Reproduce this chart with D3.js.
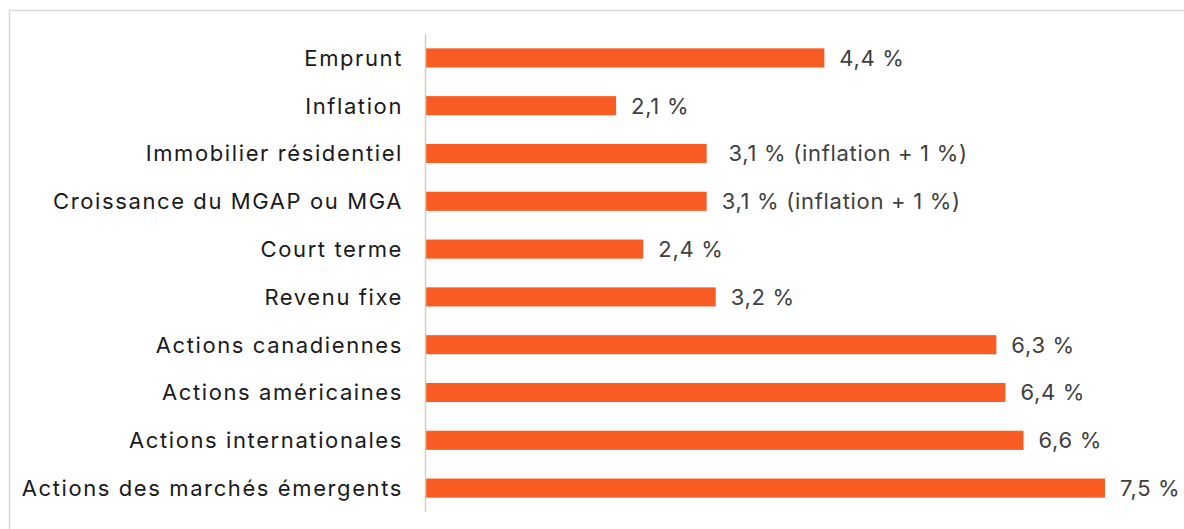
<!DOCTYPE html>
<html>
<head>
<meta charset="utf-8">
<script src="https://cdn.jsdelivr.net/npm/d3@7"></script>
<style>
  body { margin: 0; background: #fff; }
  svg { display: block; }
  .cat { font-family: Inter, sans-serif; font-size: 22px; fill: #1a1a1a; letter-spacing: 1.6px; }
  .val { font-family: Inter, sans-serif; font-size: 22px; fill: #404040; letter-spacing: 0.7px; }
</style>
</head>
<body>
<div class="chart"></div>
<script>
const categories = ["Emprunt", "Inflation", "Immobilier résidentiel", "Croissance du MGAP ou MGA",
  "Court terme", "Revenu fixe", "Actions canadiennes", "Actions américaines",
  "Actions internationales", "Actions des marchés émergents"];
const values = [4.4, 2.1, 3.1, 3.1, 2.4, 3.2, 6.3, 6.4, 6.6, 7.5];
const valueLabels = ["4,4 %", "2,1 %", " 3,1 % (inflation + 1 %)", "3,1 % (inflation + 1 %)",
  "2,4 %", "3,2 %", "6,3 %", "6,4 %", "6,6 %", "7,5 %"];

const W = 1184, H = 529;
const svg = d3.select(".chart").append("svg")
    .attr("width", W)
    .attr("height", H);

// frame
svg.append("rect")
    .attr("x", 9.5).attr("y", 10.5)
    .attr("width", 1200).attr("height", 600)
    .attr("fill", "none")
    .attr("stroke", "#d9d9d9")
    .attr("stroke-width", 1.5);

const x = d3.scaleLinear().domain([0, 7.5]).range([426, 1105]);
const y = d3.scaleBand().domain(categories).range([34, 512]).paddingInner(0.6).paddingOuter(0.3);

const data = categories.map((c, i) => ({cat: c, v: values[i], lab: valueLabels[i]}));

svg.selectAll("rect.bar")
    .data(data)
    .enter().append("rect")
    .attr("class", "bar")
    .attr("x", x(0))
    .attr("y", d => y(d.cat))
    .attr("width", d => x(d.v) - x(0))
    .attr("height", y.bandwidth())
    .attr("fill", "#f95c22");

// axis line
svg.append("line")
    .attr("x1", 425.5).attr("x2", 425.5)
    .attr("y1", 34).attr("y2", 512)
    .attr("stroke", "#d6cfb8")
    .attr("stroke-width", 1.5);

svg.selectAll("text.cat")
    .data(data)
    .enter().append("text")
    .attr("class", "cat")
    .attr("x", 403)
    .attr("y", d => y(d.cat) + y.bandwidth() / 2)
    .attr("dy", "0.36em")
    .attr("text-anchor", "end")
    .text(d => d.cat);

svg.selectAll("text.val")
    .data(data)
    .enter().append("text")
    .attr("class", "val")
    .attr("x", d => x(d.v) + 15)
    .attr("y", d => y(d.cat) + y.bandwidth() / 2)
    .attr("dy", "0.36em")
    .attr("xml:space", "preserve")
    .style("white-space", "pre")
    .text(d => d.lab);
</script>
</body>
</html>
